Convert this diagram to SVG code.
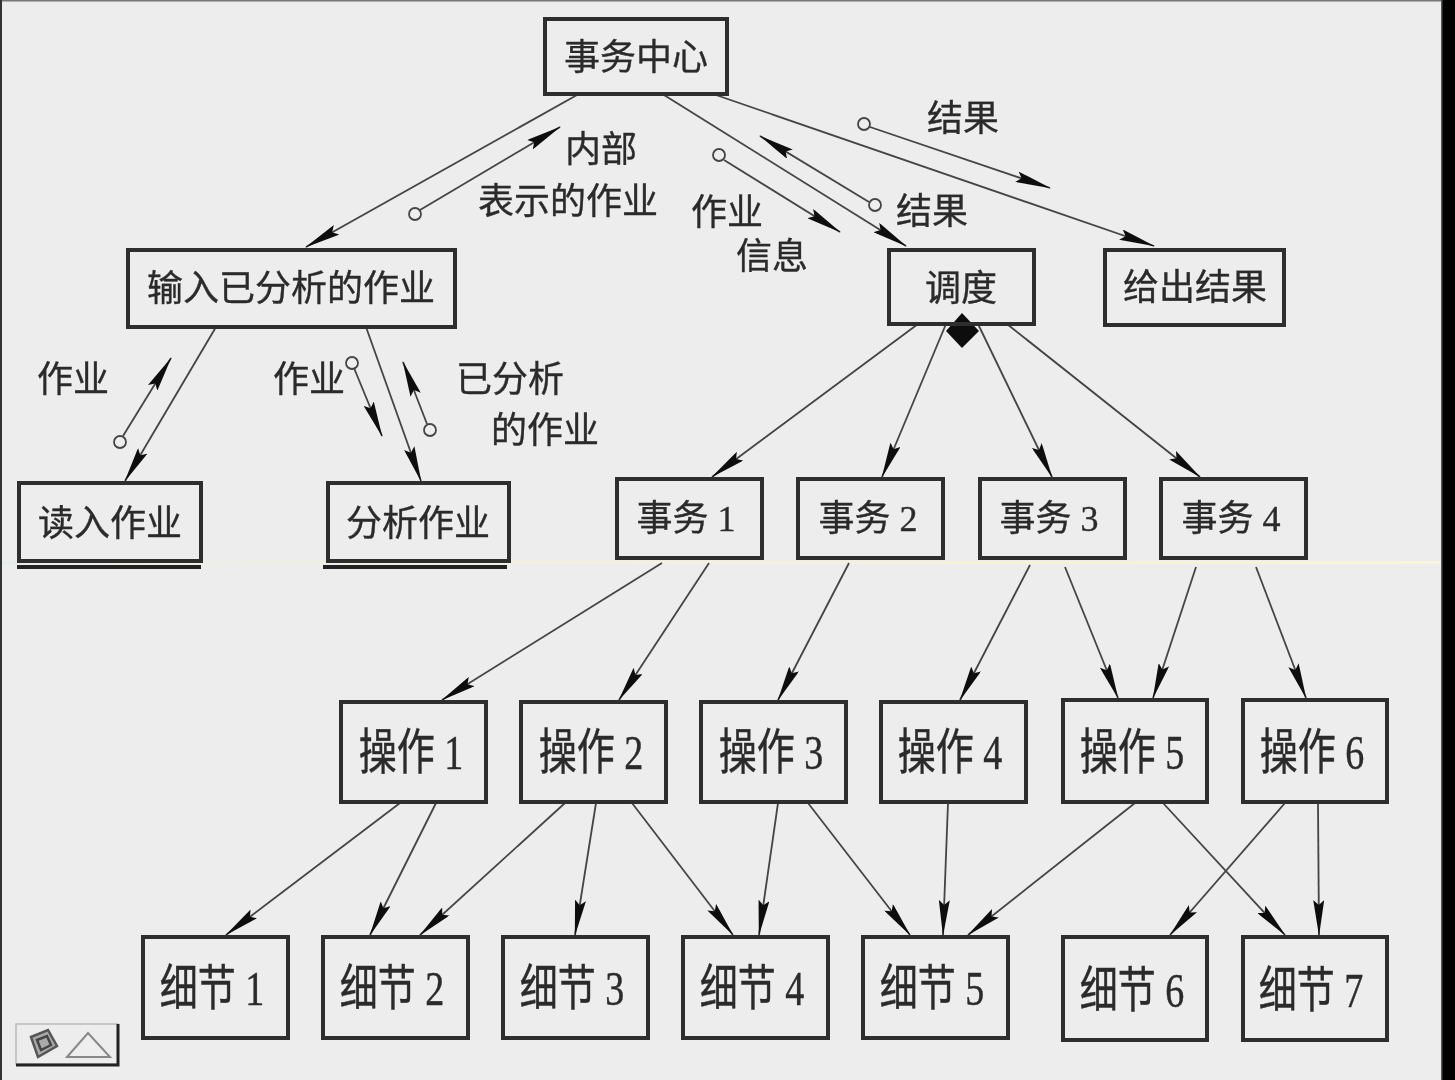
<svg xmlns="http://www.w3.org/2000/svg" width="1455" height="1080" viewBox="0 0 1455 1080">
<style>
.b{fill:none;stroke:#2e2e2e;stroke-width:4}
.l{fill:none;stroke:#444;stroke-width:1.8}
.a{marker-end:url(#ah)}
.o{fill:#eee;stroke:#444;stroke-width:1.8}
text{font-family:"Liberation Serif","Noto Sans CJK SC","Noto Sans",serif;fill:#2c2c2c;stroke:#2c2c2c;stroke-width:.35;font-size:36px;text-anchor:middle}
.t{font-size:38px}
</style>
<defs>
<marker id="ah" viewBox="0 0 36 11" refX="35" refY="5.5" markerWidth="36" markerHeight="11" markerUnits="userSpaceOnUse" orient="auto"><path d="M0 0L36 5.5L0 11L5 5.5Z" fill="#111"/></marker>
<filter id="s" x="-5%" y="-5%" width="110%" height="110%"><feGaussianBlur stdDeviation="0.6"/></filter>
<linearGradient id="y" x1="0" x2="1" y1="0" y2="0"><stop offset="0" stop-color="#e6ece8"/><stop offset=".35" stop-color="#f2f2dc"/><stop offset="1" stop-color="#f4f4d8"/></linearGradient>
</defs>
<rect width="1455" height="1080" fill="#ededed"/>
<rect y="561" width="1442" height="3" fill="url(#y)"/>
<rect width="1442" height="1.5" fill="#777"/>
<rect x="1442" width="13" height="1080" fill="#000"/>
<rect x="1441" width="1.5" height="1080" fill="#555"/>
<rect width="2" height="1080" fill="#333"/>
<g filter="url(#s)">
<g id="connectors">
<path class="l a" d="M577 95L306 247"/>
<path class="l a" d="M664 95L906 246"/>
<path class="l a" d="M716 95L1154 246"/>
<path class="l a" d="M216 327L125 481"/>
<path class="l a" d="M366 327L421 481"/>
<path class="l a" d="M918 324L712 477"/>
<path class="l a" d="M946 324L882 477"/>
<path class="l a" d="M978 324L1052 477"/>
<path class="l a" d="M1007 324L1200 477"/>
<path class="l a" d="M662 563L442 700"/>
<path class="l a" d="M709 563L619 700"/>
<path class="l a" d="M849 563L778 700"/>
<path class="l a" d="M1030 565L960 700"/>
<path class="l a" d="M1065 567L1118 698"/>
<path class="l a" d="M1196 567L1153 698"/>
<path class="l a" d="M1256 567L1306 698"/>
<path class="l a" d="M400 803L226 935"/>
<path class="l a" d="M436 803L370 935"/>
<path class="l a" d="M565 803L420 935"/>
<path class="l a" d="M596 803L575 935"/>
<path class="l a" d="M632 803L733 935"/>
<path class="l a" d="M778 803L759 935"/>
<path class="l a" d="M808 803L910 935"/>
<path class="l a" d="M948 803L943 935"/>
<path class="l a" d="M1135 803L968 935"/>
<path class="l a" d="M1163 803L1285 935"/>
<path class="l a" d="M1285 803L1170 935"/>
<path class="l a" d="M1318 803L1319 935"/>
<path class="l a" d="M420 210L560 127"/>
<path class="l a" d="M724 160L840 232"/>
<path class="l a" d="M869 202L760 136"/>
<path class="l a" d="M870 127L1050 188"/>
<path class="l a" d="M123 436L171 358"/>
<path class="l a" d="M354 368L382 436"/>
<path class="l a" d="M427 424L403 362"/>
<circle class="o" cx="415" cy="214" r="6"/>
<circle class="o" cx="719" cy="155" r="6"/>
<circle class="o" cx="875" cy="205" r="6"/>
<circle class="o" cx="864" cy="124" r="6"/>
<circle class="o" cx="120" cy="442" r="6"/>
<circle class="o" cx="352" cy="363" r="6"/>
<circle class="o" cx="430" cy="430" r="6"/>
<path d="M962 313L979 331L962 348L946 331Z" fill="#111"/>
<path d="M17 567H201M323 567H507" stroke="#222" stroke-width="4" fill="none"/>
</g>
<g id="n-center"><rect class="b" x="545" y="19" width="182" height="75"/><text x="636" y="70">事务中心</text></g>
<g id="n-input"><rect class="b" x="128" y="250" width="327" height="77"/><text x="291" y="301">输入已分析的作业</text></g>
<g id="n-dispatch"><rect class="b" x="889" y="250" width="145" height="74"/><text x="961" y="301">调度</text></g>
<g id="n-result"><rect class="b" x="1105" y="250" width="179" height="75"/><text x="1195" y="300">给出结果</text></g>
<g id="n-read"><rect class="b" x="19" y="483" width="182" height="78"/><text x="110" y="536">读入作业</text></g>
<g id="n-analyze"><rect class="b" x="328" y="483" width="181" height="78"/><text x="418" y="536">分析作业</text></g>
<g id="n-t1"><rect class="b" x="617" y="479" width="145" height="79"/><text x="686" y="531">事务 1</text></g>
<g id="n-t2"><rect class="b" x="798" y="479" width="145" height="79"/><text x="868" y="531">事务 2</text></g>
<g id="n-t3"><rect class="b" x="980" y="479" width="145" height="79"/><text x="1049" y="531">事务 3</text></g>
<g id="n-t4"><rect class="b" x="1161" y="479" width="145" height="79"/><text x="1231" y="531">事务 4</text></g>
<g id="n-o1"><rect class="b" x="341" y="702" width="145" height="100"/><text class="t" transform="translate(411 769) scale(1 1.3)">操作 1</text></g>
<g id="n-o2"><rect class="b" x="521" y="702" width="145" height="100"/><text class="t" transform="translate(591 769) scale(1 1.3)">操作 2</text></g>
<g id="n-o3"><rect class="b" x="701" y="702" width="145" height="100"/><text class="t" transform="translate(771 769) scale(1 1.3)">操作 3</text></g>
<g id="n-o4"><rect class="b" x="881" y="702" width="145" height="100"/><text class="t" transform="translate(950 769) scale(1 1.3)">操作 4</text></g>
<g id="n-o5"><rect class="b" x="1063" y="700" width="144" height="102"/><text class="t" transform="translate(1132 769) scale(1 1.3)">操作 5</text></g>
<g id="n-o6"><rect class="b" x="1243" y="700" width="144" height="102"/><text class="t" transform="translate(1312 769) scale(1 1.3)">操作 6</text></g>
<g id="n-d1"><rect class="b" x="143" y="937" width="145" height="101"/><text class="t" transform="translate(212 1005) scale(1 1.3)">细节 1</text></g>
<g id="n-d2"><rect class="b" x="323" y="937" width="145" height="101"/><text class="t" transform="translate(392 1005) scale(1 1.3)">细节 2</text></g>
<g id="n-d3"><rect class="b" x="503" y="937" width="145" height="101"/><text class="t" transform="translate(572 1005) scale(1 1.3)">细节 3</text></g>
<g id="n-d4"><rect class="b" x="683" y="937" width="145" height="101"/><text class="t" transform="translate(752 1005) scale(1 1.3)">细节 4</text></g>
<g id="n-d5"><rect class="b" x="863" y="937" width="145" height="101"/><text class="t" transform="translate(932 1005) scale(1 1.3)">细节 5</text></g>
<g id="n-d6"><rect class="b" x="1063" y="937" width="144" height="103"/><text class="t" transform="translate(1132 1007) scale(1 1.3)">细节 6</text></g>
<g id="n-d7"><rect class="b" x="1243" y="937" width="144" height="103"/><text class="t" transform="translate(1311 1007) scale(1 1.3)">细节 7</text></g>
<g id="labels">
<text x="601" y="162">内部</text>
<text x="568" y="214">表示的作业</text>
<text x="727" y="225">作业</text>
<text x="772" y="269">信息</text>
<text x="932" y="224">结果</text>
<text x="963" y="131">结果</text>
<text x="73" y="392">作业</text>
<text x="309" y="392">作业</text>
<text x="510" y="392">已分析</text>
<text x="545" y="443">的作业</text>
</g>
<g id="icon">
<path d="M16 1024H118V1064H16Z" fill="none" stroke="#bbb" stroke-width="1.5"/>
<path d="M118 1024V1065H16" fill="none" stroke="#222" stroke-width="3"/>
<path d="M31 1037L48 1030L57 1046L38 1057Z" fill="#aaa" stroke="#555" stroke-width="2.5"/>
<path d="M37 1040L47 1036L51 1045L41 1050Z" fill="none" stroke="#444" stroke-width="2.5"/>
<path d="M67 1057L88 1033L110 1057Z" fill="#eee" stroke="#888" stroke-width="2"/>
</g>
</g>
</svg>
